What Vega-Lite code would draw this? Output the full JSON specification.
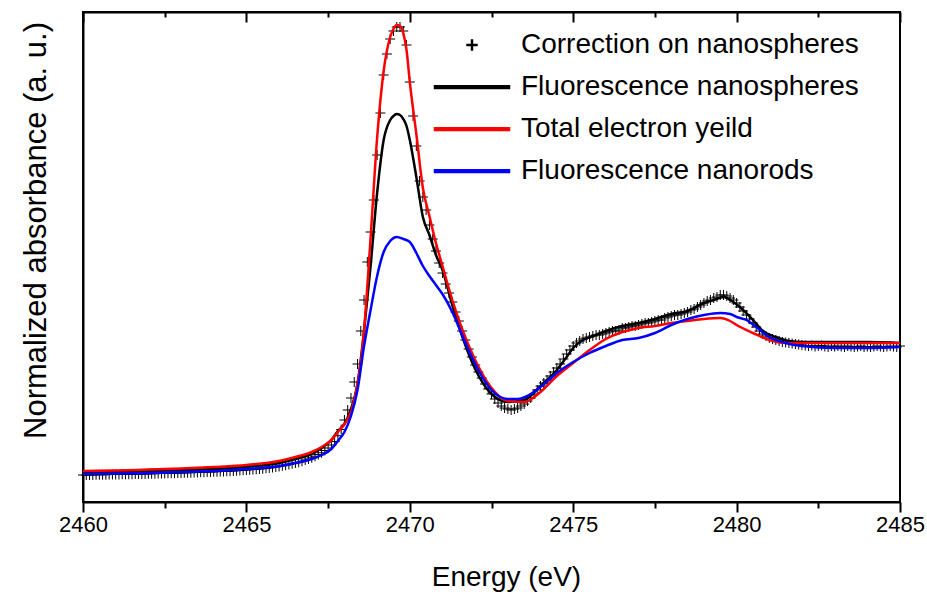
{
"$schema": "https://vega.github.io/schema/vega-lite/v6.json",
"width": 817, "height": 490,
"autosize": {"type": "none"},
"padding": {"left": 83, "top": 12, "right": 27, "bottom": 90},
"background": "white",
"config": {"view": {"stroke": "black", "strokeWidth": 2}, "font": "Liberation Sans"},
"data": {"values": [
{"s":"C","e":2460.0,"v":-0.024},{"s":"C","e":2460.1,"v":-0.024},{"s":"C","e":2460.2,"v":-0.023},{"s":"C","e":2460.3,"v":-0.023},{"s":"C","e":2460.4,"v":-0.022},{"s":"C","e":2460.5,"v":-0.022},{"s":"C","e":2460.6,"v":-0.021},{"s":"C","e":2460.7,"v":-0.021},{"s":"C","e":2460.8,"v":-0.020},{"s":"C","e":2460.9,"v":-0.020},
{"s":"C","e":2461.0,"v":-0.019},{"s":"C","e":2461.1,"v":-0.019},{"s":"C","e":2461.2,"v":-0.018},{"s":"C","e":2461.3,"v":-0.018},{"s":"C","e":2461.4,"v":-0.017},{"s":"C","e":2461.5,"v":-0.017},{"s":"C","e":2461.6,"v":-0.016},{"s":"C","e":2461.7,"v":-0.016},{"s":"C","e":2461.8,"v":-0.015},{"s":"C","e":2461.9,"v":-0.015},
{"s":"C","e":2462.0,"v":-0.014},{"s":"C","e":2462.1,"v":-0.013},{"s":"C","e":2462.2,"v":-0.013},{"s":"C","e":2462.3,"v":-0.012},{"s":"C","e":2462.4,"v":-0.011},{"s":"C","e":2462.5,"v":-0.011},{"s":"C","e":2462.6,"v":-0.010},{"s":"C","e":2462.7,"v":-0.009},{"s":"C","e":2462.8,"v":-0.009},{"s":"C","e":2462.9,"v":-0.008},
{"s":"C","e":2463.0,"v":-0.007},{"s":"C","e":2463.1,"v":-0.006},{"s":"C","e":2463.2,"v":-0.005},{"s":"C","e":2463.3,"v":-0.005},{"s":"C","e":2463.4,"v":-0.004},{"s":"C","e":2463.5,"v":-0.003},{"s":"C","e":2463.6,"v":-0.002},{"s":"C","e":2463.7,"v":-0.001},{"s":"C","e":2463.8,"v":0.000},{"s":"C","e":2463.9,"v":0.001},
{"s":"C","e":2464.0,"v":0.002},{"s":"C","e":2464.1,"v":0.003},{"s":"C","e":2464.2,"v":0.004},{"s":"C","e":2464.3,"v":0.005},{"s":"C","e":2464.4,"v":0.006},{"s":"C","e":2464.5,"v":0.007},{"s":"C","e":2464.6,"v":0.009},{"s":"C","e":2464.7,"v":0.010},{"s":"C","e":2464.8,"v":0.012},{"s":"C","e":2464.9,"v":0.014},
{"s":"C","e":2465.0,"v":0.016},{"s":"C","e":2465.1,"v":0.018},{"s":"C","e":2465.2,"v":0.020},{"s":"C","e":2465.3,"v":0.022},{"s":"C","e":2465.4,"v":0.024},{"s":"C","e":2465.5,"v":0.027},{"s":"C","e":2465.6,"v":0.030},{"s":"C","e":2465.7,"v":0.033},{"s":"C","e":2465.8,"v":0.037},{"s":"C","e":2465.9,"v":0.041},
{"s":"C","e":2466.0,"v":0.045},{"s":"C","e":2466.1,"v":0.050},{"s":"C","e":2466.2,"v":0.055},{"s":"C","e":2466.3,"v":0.060},{"s":"C","e":2466.4,"v":0.066},{"s":"C","e":2466.5,"v":0.072},{"s":"C","e":2466.6,"v":0.079},{"s":"C","e":2466.7,"v":0.087},{"s":"C","e":2466.8,"v":0.096},{"s":"C","e":2466.9,"v":0.105},
{"s":"C","e":2467.0,"v":0.115},{"s":"C","e":2467.1,"v":0.127},{"s":"C","e":2467.2,"v":0.140},{"s":"C","e":2467.3,"v":0.155},{"s":"C","e":2467.4,"v":0.172},{"s":"C","e":2467.5,"v":0.192},{"s":"C","e":2467.6,"v":0.216},{"s":"C","e":2467.7,"v":0.245},{"s":"C","e":2467.8,"v":0.290},{"s":"C","e":2467.9,"v":0.340},
{"s":"C","e":2468.0,"v":0.416},{"s":"C","e":2468.1,"v":0.496},{"s":"C","e":2468.2,"v":0.592},{"s":"C","e":2468.3,"v":0.720},{"s":"C","e":2468.4,"v":0.864},{"s":"C","e":2468.5,"v":1.128},{"s":"C","e":2468.6,"v":1.376},{"s":"C","e":2468.7,"v":1.680},{"s":"C","e":2468.8,"v":1.920},{"s":"C","e":2468.9,"v":2.176},
{"s":"C","e":2469.0,"v":2.536},{"s":"C","e":2469.1,"v":2.872},{"s":"C","e":2469.2,"v":3.176},{"s":"C","e":2469.3,"v":3.344},{"s":"C","e":2469.4,"v":3.464},{"s":"C","e":2469.5,"v":3.528},{"s":"C","e":2469.6,"v":3.560},{"s":"C","e":2469.7,"v":3.560},{"s":"C","e":2469.8,"v":3.528},{"s":"C","e":2469.9,"v":3.416},
{"s":"C","e":2470.0,"v":3.120},{"s":"C","e":2470.1,"v":2.848},{"s":"C","e":2470.2,"v":2.608},{"s":"C","e":2470.3,"v":2.328},{"s":"C","e":2470.4,"v":2.200},{"s":"C","e":2470.5,"v":2.096},{"s":"C","e":2470.6,"v":1.976},{"s":"C","e":2470.7,"v":1.864},{"s":"C","e":2470.8,"v":1.768},{"s":"C","e":2470.9,"v":1.672},
{"s":"C","e":2471.0,"v":1.592},{"s":"C","e":2471.1,"v":1.504},{"s":"C","e":2471.2,"v":1.432},{"s":"C","e":2471.3,"v":1.360},{"s":"C","e":2471.4,"v":1.280},{"s":"C","e":2471.5,"v":1.208},{"s":"C","e":2471.6,"v":1.128},{"s":"C","e":2471.7,"v":1.056},{"s":"C","e":2471.8,"v":0.984},{"s":"C","e":2471.9,"v":0.920},
{"s":"C","e":2472.0,"v":0.856},{"s":"C","e":2472.1,"v":0.800},{"s":"C","e":2472.2,"v":0.752},{"s":"C","e":2472.3,"v":0.704},{"s":"C","e":2472.4,"v":0.664},{"s":"C","e":2472.5,"v":0.624},{"s":"C","e":2472.6,"v":0.584},{"s":"C","e":2472.7,"v":0.552},{"s":"C","e":2472.8,"v":0.528},{"s":"C","e":2472.9,"v":0.512},
{"s":"C","e":2473.0,"v":0.504},{"s":"C","e":2473.1,"v":0.496},{"s":"C","e":2473.2,"v":0.504},{"s":"C","e":2473.3,"v":0.512},{"s":"C","e":2473.4,"v":0.528},{"s":"C","e":2473.5,"v":0.544},{"s":"C","e":2473.6,"v":0.568},{"s":"C","e":2473.7,"v":0.592},{"s":"C","e":2473.8,"v":0.624},{"s":"C","e":2473.9,"v":0.656},
{"s":"C","e":2474.0,"v":0.688},{"s":"C","e":2474.1,"v":0.712},{"s":"C","e":2474.2,"v":0.736},{"s":"C","e":2474.3,"v":0.768},{"s":"C","e":2474.4,"v":0.800},{"s":"C","e":2474.5,"v":0.832},{"s":"C","e":2474.6,"v":0.864},{"s":"C","e":2474.7,"v":0.904},{"s":"C","e":2474.8,"v":0.944},{"s":"C","e":2474.9,"v":0.976},
{"s":"C","e":2475.0,"v":1.008},{"s":"C","e":2475.1,"v":1.032},{"s":"C","e":2475.2,"v":1.048},{"s":"C","e":2475.3,"v":1.064},{"s":"C","e":2475.4,"v":1.072},{"s":"C","e":2475.5,"v":1.080},{"s":"C","e":2475.6,"v":1.088},{"s":"C","e":2475.7,"v":1.096},{"s":"C","e":2475.8,"v":1.096},{"s":"C","e":2475.9,"v":1.104},
{"s":"C","e":2476.0,"v":1.112},{"s":"C","e":2476.1,"v":1.120},{"s":"C","e":2476.2,"v":1.128},{"s":"C","e":2476.3,"v":1.128},{"s":"C","e":2476.4,"v":1.136},{"s":"C","e":2476.5,"v":1.152},{"s":"C","e":2476.6,"v":1.152},{"s":"C","e":2476.7,"v":1.160},{"s":"C","e":2476.8,"v":1.168},{"s":"C","e":2476.9,"v":1.168},
{"s":"C","e":2477.0,"v":1.176},{"s":"C","e":2477.1,"v":1.184},{"s":"C","e":2477.2,"v":1.192},{"s":"C","e":2477.3,"v":1.192},{"s":"C","e":2477.4,"v":1.200},{"s":"C","e":2477.5,"v":1.208},{"s":"C","e":2477.6,"v":1.216},{"s":"C","e":2477.7,"v":1.216},{"s":"C","e":2477.8,"v":1.232},{"s":"C","e":2477.9,"v":1.240},
{"s":"C","e":2478.0,"v":1.248},{"s":"C","e":2478.1,"v":1.256},{"s":"C","e":2478.2,"v":1.256},{"s":"C","e":2478.3,"v":1.264},{"s":"C","e":2478.4,"v":1.272},{"s":"C","e":2478.5,"v":1.280},{"s":"C","e":2478.6,"v":1.296},{"s":"C","e":2478.7,"v":1.304},{"s":"C","e":2478.8,"v":1.320},{"s":"C","e":2478.9,"v":1.336},
{"s":"C","e":2479.0,"v":1.352},{"s":"C","e":2479.1,"v":1.368},{"s":"C","e":2479.2,"v":1.376},{"s":"C","e":2479.3,"v":1.392},{"s":"C","e":2479.4,"v":1.400},{"s":"C","e":2479.5,"v":1.416},{"s":"C","e":2479.6,"v":1.416},{"s":"C","e":2479.7,"v":1.408},{"s":"C","e":2479.8,"v":1.392},{"s":"C","e":2479.9,"v":1.376},
{"s":"C","e":2480.0,"v":1.352},{"s":"C","e":2480.1,"v":1.320},{"s":"C","e":2480.2,"v":1.288},{"s":"C","e":2480.3,"v":1.256},{"s":"C","e":2480.4,"v":1.224},{"s":"C","e":2480.5,"v":1.192},{"s":"C","e":2480.6,"v":1.160},{"s":"C","e":2480.7,"v":1.128},{"s":"C","e":2480.8,"v":1.104},{"s":"C","e":2480.9,"v":1.088},
{"s":"C","e":2481.0,"v":1.072},{"s":"C","e":2481.1,"v":1.064},{"s":"C","e":2481.2,"v":1.056},{"s":"C","e":2481.3,"v":1.048},{"s":"C","e":2481.4,"v":1.040},{"s":"C","e":2481.5,"v":1.036},{"s":"C","e":2481.6,"v":1.032},{"s":"C","e":2481.7,"v":1.028},{"s":"C","e":2481.8,"v":1.024},{"s":"C","e":2481.9,"v":1.020},
{"s":"C","e":2482.0,"v":1.016},{"s":"C","e":2482.1,"v":1.012},{"s":"C","e":2482.2,"v":1.008},{"s":"C","e":2482.3,"v":1.012},{"s":"C","e":2482.4,"v":1.004},{"s":"C","e":2482.5,"v":1.008},{"s":"C","e":2482.6,"v":1.012},{"s":"C","e":2482.7,"v":1.004},{"s":"C","e":2482.8,"v":1.000},{"s":"C","e":2482.9,"v":1.008},
{"s":"C","e":2483.0,"v":1.004},{"s":"C","e":2483.1,"v":1.008},{"s":"C","e":2483.2,"v":1.004},{"s":"C","e":2483.3,"v":1.000},{"s":"C","e":2483.4,"v":1.008},{"s":"C","e":2483.5,"v":1.004},{"s":"C","e":2483.6,"v":1.000},{"s":"C","e":2483.7,"v":1.004},{"s":"C","e":2483.8,"v":1.008},{"s":"C","e":2483.9,"v":1.000},
{"s":"C","e":2484.0,"v":1.004},{"s":"C","e":2484.1,"v":1.000},{"s":"C","e":2484.2,"v":1.004},{"s":"C","e":2484.3,"v":1.008},{"s":"C","e":2484.4,"v":1.004},{"s":"C","e":2484.5,"v":1.000},{"s":"C","e":2484.6,"v":1.004},{"s":"C","e":2484.7,"v":1.008},{"s":"C","e":2484.8,"v":1.004},{"s":"C","e":2484.9,"v":1.000},
{"s":"C","e":2485.0,"v":1.008},
{"s":"F","e":2460,"v":-0.004},{"s":"F","e":2461,"v":0.000},{"s":"F","e":2462,"v":0.008},{"s":"F","e":2463,"v":0.016},{"s":"F","e":2464,"v":0.024},{"s":"F","e":2465,"v":0.040},{"s":"F","e":2466,"v":0.072},{"s":"F","e":2466.5,"v":0.104},{"s":"F","e":2467,"v":0.144},{"s":"F","e":2467.3,"v":0.192},{"s":"F","e":2467.6,"v":0.256},{"s":"F","e":2467.8,"v":0.328},{"s":"F","e":2468,"v":0.384},{"s":"F","e":2468.2,"v":0.504},{"s":"F","e":2468.4,"v":0.704},{"s":"F","e":2468.6,"v":1.128},{"s":"F","e":2468.8,"v":1.648},{"s":"F","e":2469,"v":2.232},{"s":"F","e":2469.2,"v":2.656},{"s":"F","e":2469.4,"v":2.816},{"s":"F","e":2469.5,"v":2.848},{"s":"F","e":2469.6,"v":2.864},{"s":"F","e":2469.7,"v":2.856},{"s":"F","e":2469.8,"v":2.824},{"s":"F","e":2469.9,"v":2.768},{"s":"F","e":2470,"v":2.656},{"s":"F","e":2470.2,"v":2.360},{"s":"F","e":2470.4,"v":2.040},{"s":"F","e":2470.6,"v":1.896},{"s":"F","e":2470.8,"v":1.736},{"s":"F","e":2471,"v":1.616},{"s":"F","e":2471.3,"v":1.336},{"s":"F","e":2471.6,"v":1.088},{"s":"F","e":2472,"v":0.824},{"s":"F","e":2472.5,"v":0.624},{"s":"F","e":2473,"v":0.560},{"s":"F","e":2473.5,"v":0.576},{"s":"F","e":2474,"v":0.688},{"s":"F","e":2474.5,"v":0.816},{"s":"F","e":2474.8,"v":0.920},{"s":"F","e":2475,"v":0.992},{"s":"F","e":2475.3,"v":1.056},{"s":"F","e":2475.6,"v":1.088},{"s":"F","e":2476,"v":1.128},{"s":"F","e":2476.5,"v":1.168},{"s":"F","e":2477,"v":1.192},{"s":"F","e":2477.5,"v":1.224},{"s":"F","e":2478,"v":1.264},{"s":"F","e":2478.5,"v":1.288},{"s":"F","e":2479,"v":1.352},{"s":"F","e":2479.3,"v":1.376},{"s":"F","e":2479.6,"v":1.400},{"s":"F","e":2479.9,"v":1.360},{"s":"F","e":2480.2,"v":1.296},{"s":"F","e":2480.5,"v":1.216},{"s":"F","e":2480.8,"v":1.128},{"s":"F","e":2481.2,"v":1.080},{"s":"F","e":2481.6,"v":1.048},{"s":"F","e":2482,"v":1.040},{"s":"F","e":2483,"v":1.040},{"s":"F","e":2484,"v":1.040},{"s":"F","e":2485,"v":1.032},
{"s":"T","e":2460,"v":0.008},{"s":"T","e":2461,"v":0.012},{"s":"T","e":2462,"v":0.020},{"s":"T","e":2463,"v":0.028},{"s":"T","e":2464,"v":0.040},{"s":"T","e":2465,"v":0.056},{"s":"T","e":2466,"v":0.088},{"s":"T","e":2466.5,"v":0.120},{"s":"T","e":2467,"v":0.160},{"s":"T","e":2467.3,"v":0.200},{"s":"T","e":2467.6,"v":0.256},{"s":"T","e":2467.8,"v":0.320},{"s":"T","e":2468,"v":0.384},{"s":"T","e":2468.2,"v":0.480},{"s":"T","e":2468.4,"v":0.704},{"s":"T","e":2468.5,"v":0.872},{"s":"T","e":2468.6,"v":1.136},{"s":"T","e":2468.8,"v":1.872},{"s":"T","e":2469,"v":2.672},{"s":"T","e":2469.2,"v":3.208},{"s":"T","e":2469.4,"v":3.480},{"s":"T","e":2469.5,"v":3.544},{"s":"T","e":2469.6,"v":3.576},{"s":"T","e":2469.7,"v":3.568},{"s":"T","e":2469.8,"v":3.512},{"s":"T","e":2469.9,"v":3.376},{"s":"T","e":2470,"v":3.120},{"s":"T","e":2470.2,"v":2.704},{"s":"T","e":2470.4,"v":2.272},{"s":"T","e":2470.6,"v":2.048},{"s":"T","e":2470.8,"v":1.832},{"s":"T","e":2471,"v":1.648},{"s":"T","e":2471.3,"v":1.376},{"s":"T","e":2471.6,"v":1.144},{"s":"T","e":2472,"v":0.896},{"s":"T","e":2472.5,"v":0.672},{"s":"T","e":2473,"v":0.568},{"s":"T","e":2473.5,"v":0.560},{"s":"T","e":2474,"v":0.640},{"s":"T","e":2474.5,"v":0.768},{"s":"T","e":2475,"v":0.872},{"s":"T","e":2475.5,"v":0.976},{"s":"T","e":2476,"v":1.064},{"s":"T","e":2476.5,"v":1.120},{"s":"T","e":2477,"v":1.152},{"s":"T","e":2477.5,"v":1.168},{"s":"T","e":2478,"v":1.192},{"s":"T","e":2478.5,"v":1.208},{"s":"T","e":2479,"v":1.224},{"s":"T","e":2479.5,"v":1.232},{"s":"T","e":2479.8,"v":1.208},{"s":"T","e":2480,"v":1.176},{"s":"T","e":2480.5,"v":1.112},{"s":"T","e":2481,"v":1.056},{"s":"T","e":2481.5,"v":1.032},{"s":"T","e":2482,"v":1.032},{"s":"T","e":2483,"v":1.032},{"s":"T","e":2484,"v":1.032},{"s":"T","e":2485,"v":1.032},
{"s":"R","e":2460,"v":-0.016},{"s":"R","e":2461,"v":-0.012},{"s":"R","e":2462,"v":-0.008},{"s":"R","e":2463,"v":0.000},{"s":"R","e":2464,"v":0.008},{"s":"R","e":2465,"v":0.024},{"s":"R","e":2466,"v":0.048},{"s":"R","e":2466.5,"v":0.072},{"s":"R","e":2467,"v":0.104},{"s":"R","e":2467.3,"v":0.136},{"s":"R","e":2467.6,"v":0.184},{"s":"R","e":2467.8,"v":0.248},{"s":"R","e":2468,"v":0.320},{"s":"R","e":2468.2,"v":0.448},{"s":"R","e":2468.4,"v":0.656},{"s":"R","e":2468.6,"v":1.008},{"s":"R","e":2468.8,"v":1.296},{"s":"R","e":2469,"v":1.568},{"s":"R","e":2469.2,"v":1.760},{"s":"R","e":2469.4,"v":1.848},{"s":"R","e":2469.6,"v":1.880},{"s":"R","e":2469.8,"v":1.864},{"s":"R","e":2470,"v":1.840},{"s":"R","e":2470.2,"v":1.752},{"s":"R","e":2470.4,"v":1.648},{"s":"R","e":2470.6,"v":1.568},{"s":"R","e":2470.8,"v":1.496},{"s":"R","e":2471,"v":1.424},{"s":"R","e":2471.3,"v":1.280},{"s":"R","e":2471.6,"v":1.096},{"s":"R","e":2472,"v":0.864},{"s":"R","e":2472.5,"v":0.656},{"s":"R","e":2473,"v":0.584},{"s":"R","e":2473.3,"v":0.584},{"s":"R","e":2473.6,"v":0.608},{"s":"R","e":2474,"v":0.680},{"s":"R","e":2474.5,"v":0.792},{"s":"R","e":2475,"v":0.880},{"s":"R","e":2475.5,"v":0.952},{"s":"R","e":2476,"v":1.008},{"s":"R","e":2476.5,"v":1.056},{"s":"R","e":2477,"v":1.072},{"s":"R","e":2477.5,"v":1.112},{"s":"R","e":2478,"v":1.176},{"s":"R","e":2478.5,"v":1.224},{"s":"R","e":2479,"v":1.256},{"s":"R","e":2479.5,"v":1.272},{"s":"R","e":2479.8,"v":1.264},{"s":"R","e":2480,"v":1.240},{"s":"R","e":2480.3,"v":1.216},{"s":"R","e":2480.6,"v":1.160},{"s":"R","e":2481,"v":1.080},{"s":"R","e":2481.5,"v":1.032},{"s":"R","e":2482,"v":1.008},{"s":"R","e":2483,"v":0.992},{"s":"R","e":2484,"v":0.992},{"s":"R","e":2485,"v":1.000}
]},
"resolve": {"axis": {"x": "independent"}},
"layer": [
{
"transform": [{"filter": "datum.s === 'C'"}],
"mark": {"type": "point", "filled": true, "size": 625, "opacity": 1},
"encoding": {
"x": {"field": "e", "type": "quantitative", "scale": {"domain": [2460, 2485], "nice": false, "zero": false},
"axis": {"orient": "top", "values": [2460, 2462.5, 2465, 2467.5, 2470, 2472.5, 2475, 2477.5, 2480, 2482.5, 2485], "labels": false, "title": null, "grid": false, "domainColor": "black", "domainWidth": 2, "tickColor": "black", "tickWidth": 2, "tickSize": {"condition": {"test": "datum.value % 5 === 0", "value": -10}, "value": -5}}},
"y": {"field": "v", "type": "quantitative", "scale": {"domain": [-0.24, 3.68], "nice": false, "zero": false},
"axis": {"title": "Normalized absorbance (a. u.)", "ticks": false, "labels": false, "grid": false, "domainColor": "black", "domainWidth": 2, "titleFontSize": 31, "titleFont": "Liberation Sans", "titleFontWeight": "normal", "titleColor": "black", "titleX": -38, "titleY": 218, "titleAlign": "center", "titleBaseline": "alphabetic", "titleAngle": 270}},
"color": {"field": "s", "type": "nominal", "scale": {"domain": ["C", "F", "T", "R"], "range": ["black", "black", "#ff0000", "#0000ff"]},
"legend": {"orient": "none", "legendX": 375, "legendY": 19, "title": null, "padding": 0, "labelFontSize": 28, "labelFont": "Liberation Sans", "labelColor": "black", "labelLimit": 600, "labelOffset": 35, "rowPadding": 14, "symbolSize": 625, "symbolOpacity": 1,
"labelExpr": "datum.value === 'C' ? 'Correction on nanospheres' : datum.value === 'F' ? 'Fluorescence nanospheres' : datum.value === 'T' ? 'Total electron yeild' : 'Fluorescence nanorods'"}},
"shape": {"field": "s", "type": "nominal", "scale": {"domain": ["C", "F", "T", "R"], "range": [
"M-0.4,-0.04L-0.04,-0.04L-0.04,-0.4L0.04,-0.4L0.04,-0.04L0.4,-0.04L0.4,0.04L0.04,0.04L0.04,0.4L-0.04,0.4L-0.04,0.04L-0.4,0.04Z",
"M-3,-0.11L3,-0.11L3,0.11L-3,0.11Z",
"M-3,-0.11L3,-0.11L3,0.11L-3,0.11Z",
"M-3,-0.11L3,-0.11L3,0.11L-3,0.11Z"]},
"legend": {"orient": "none", "legendX": 375, "legendY": 19, "title": null, "padding": 0, "labelFontSize": 28, "labelFont": "Liberation Sans", "labelColor": "black", "labelLimit": 600, "labelOffset": 35, "rowPadding": 14, "symbolSize": 625, "symbolOpacity": 1,
"labelExpr": "datum.value === 'C' ? 'Correction on nanospheres' : datum.value === 'F' ? 'Fluorescence nanospheres' : datum.value === 'T' ? 'Total electron yeild' : 'Fluorescence nanorods'"}}
}
},
{
"transform": [{"filter": "datum.s !== 'C'"}],
"mark": {"type": "line", "strokeWidth": 2.5, "interpolate": "monotone"},
"encoding": {
"x": {"field": "e", "type": "quantitative", "scale": {"domain": [2460, 2485], "nice": false, "zero": false},
"axis": {"orient": "bottom", "values": [2460, 2462.5, 2465, 2467.5, 2470, 2472.5, 2475, 2477.5, 2480, 2482.5, 2485], "format": "d", "labelExpr": "datum.value % 5 === 0 ? datum.label : ''", "grid": false, "domainColor": "black", "domainWidth": 2, "tickColor": "black", "tickWidth": 2, "tickSize": {"condition": {"test": "datum.value % 5 === 0", "value": 10}, "value": 6}, "labelFontSize": 22, "labelFont": "Liberation Sans", "labelColor": "black", "labelPadding": 2, "labelFlush": false, "labelOverlap": false, "title": "Energy (eV)", "titleFontSize": 28, "titleFont": "Liberation Sans", "titleFontWeight": "normal", "titleColor": "black", "titleX": 423, "titleY": 83, "titleAlign": "center", "titleBaseline": "alphabetic"}},
"y": {"field": "v", "type": "quantitative", "scale": {"domain": [-0.24, 3.68], "nice": false, "zero": false}},
"color": {"field": "s", "type": "nominal", "legend": null}
}
}
]
}
